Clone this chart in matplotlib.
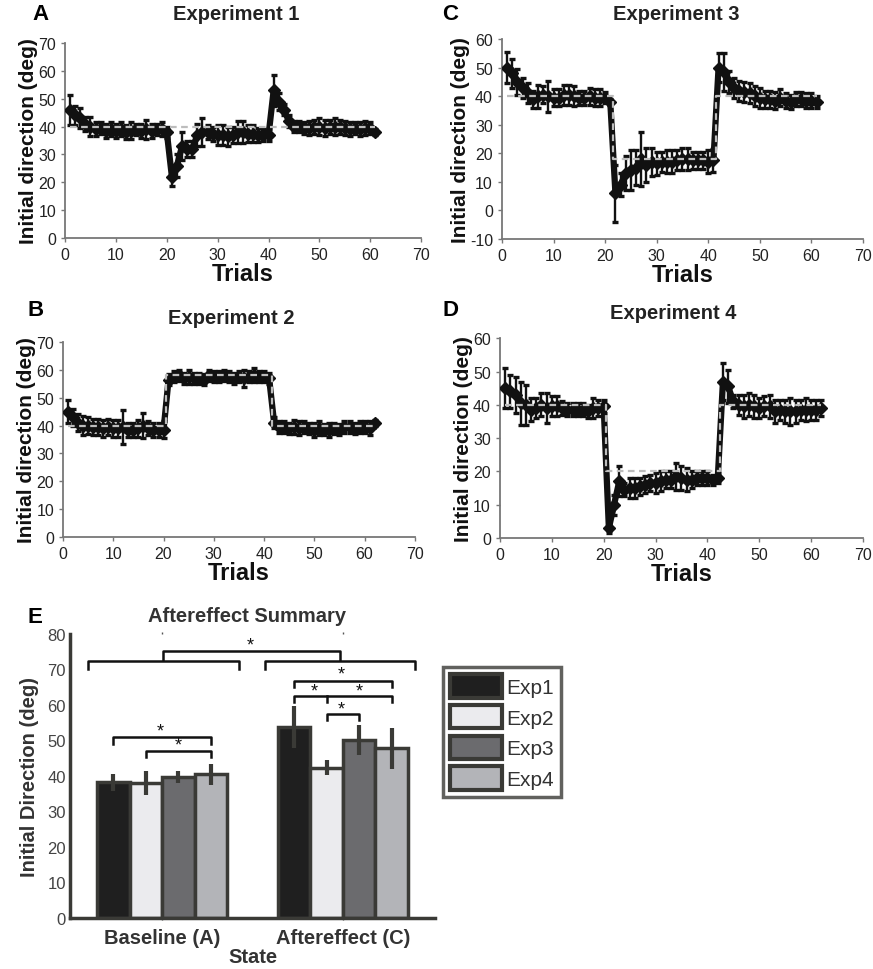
import numpy as np
import matplotlib
matplotlib.use("Agg")
import matplotlib.pyplot as plt
from matplotlib.patches import Patch

plt.rcParams["font.family"] = ["Liberation Sans", "DejaVu Sans"]
plt.rcParams["axes.unicode_minus"] = False

# ---- trial-by-trial data (mean, error) ----
exp1_mean = [46, 44, 43, 41, 40, 39, 39.5, 38.5, 39, 38.5, 39, 38, 38.5, 39, 38.5, 39, 38.5, 39, 39, 38,
             22, 26, 33, 32, 32, 37, 38, 38, 37.5, 37, 37, 36.5, 37, 38, 38, 37.5, 37.5, 37, 37, 37,
             53, 49, 46, 42, 40, 40, 39.5, 39.5, 40, 40, 39.5, 40, 40, 40, 39.5, 39, 39.5, 39, 39.5, 39.5, 38]
exp1_err = [5.5, 3.5, 3.5, 2.5, 3.5, 2.5, 2, 2.5, 2.5, 2.5, 2.5, 2.5, 3, 2, 2.5, 3.5, 2.5, 2, 2.5, 2,
            3.5, 4, 5, 3, 3, 4, 5, 2.5, 2.5, 3.5, 3.5, 3.5, 3, 4, 4, 3, 3, 2.5, 2, 2,
            5.5, 3, 2, 2, 2, 2, 2, 2.5, 2.5, 3, 3, 2.5, 3, 2.5, 2.5, 2.5, 2, 2.5, 2.5, 2, 1]
exp1_target = [40] * 61

exp2_mean = [45, 43, 41, 40, 40, 39.5, 39.5, 39, 39.5, 39, 39, 39.5, 38.5, 38.5, 39, 40, 39, 38.5, 38.5, 38.5,
             56.5, 57.5, 58, 57, 57.5, 57, 57, 56.5, 58, 57.5, 57.5, 58, 57.5, 57, 57.5, 57, 57.5, 58, 57.5, 57.5, 57,
             41, 39.5, 39.5, 39, 39.5, 39, 39.5, 39, 38.5, 39, 38.5, 38.5, 39, 38.5, 39.5, 39.5, 39, 39.5, 39.5, 39, 41]
exp2_err = [4, 3, 3, 3.5, 3, 3, 3, 3, 3, 3, 3, 6, 2.5, 2.5, 3, 4.5, 2.5, 2.5, 2.5, 3,
            2, 2, 2, 2, 2.5, 2, 2, 2, 2, 2, 2, 2, 2, 2, 2, 3, 2, 2.5, 2, 2, 2,
            2, 2, 2, 2, 2.5, 2.5, 2, 2, 2.5, 2.5, 2, 2.5, 2, 2, 2, 2, 2, 2, 2, 2.5, 1]
exp2_target = [40] * 20 + [58] * 21 + [40] * 21

exp3_mean = [50, 48, 45, 43, 41, 39, 40, 40.5, 40, 39.5, 39.5, 40.5, 40.5, 40, 39.5, 39.5, 40, 39.5, 39.5, 39.5, 38,
             6, 9, 13, 14, 15, 18, 16, 17, 16.5, 17, 17, 17, 17.5, 18, 18, 17.5, 17.5, 17.5, 17, 17.5,
             50, 48.5, 45, 43, 42, 41.5, 41, 40, 39.5, 39, 39, 38.5, 39.5, 38.5, 38, 39, 39, 38.5, 38.5, 38]
exp3_err = [5.5, 5, 4.5, 3.5, 3.5, 3, 4, 3, 5.5, 3, 3, 3.5, 3.5, 3.5, 2.5, 2.5, 3, 3, 3, 2, 1,
            10, 4, 6, 7, 6, 9.5, 6, 5, 4, 3.5, 4, 4, 3.5, 4, 4, 3, 3, 3, 4, 4,
            5, 6.5, 4, 3.5, 3.5, 3.5, 3.5, 3.5, 3.5, 3, 3, 3, 3, 2.5, 2.5, 2.5, 2.5, 2.5, 2.5, 2]
exp3_target = [40] * 21 + [18] * 20 + [40] * 20

exp4_mean = [45, 44, 43, 40.5, 40, 38.5, 39, 40, 39, 39.5, 39.5, 39, 38.5, 38.5, 38.5, 38.5, 38, 39, 39, 39.5,
             3, 10, 17, 14.5, 15, 15, 15.5, 16, 16.5, 16.5, 17, 17.5, 17.5, 18.5, 18, 17.5, 17.5, 18, 18, 18, 17.5, 18,
             47, 45.5, 41, 40, 39.5, 40, 39.5, 39, 39.5, 39.5, 38, 38.5, 38, 38, 38, 38.5, 38.5, 38.5, 38.5, 39]
exp4_err = [6, 5, 5.5, 6.5, 6, 3.5, 3, 3.5, 4.5, 3, 3, 2, 2, 2, 2, 2, 2, 3, 2.5, 2,
            1.5, 3, 4.5, 2, 3, 3, 2.5, 2.5, 2.5, 3, 3, 2.5, 2.5, 4, 3.5, 3.5, 2.5, 2, 2, 2, 1.5, 1.5,
            5.5, 5, 2, 3, 3.5, 3.5, 3.5, 3, 3, 3.5, 3.5, 3, 3.5, 4, 3.5, 3, 3.5, 3, 3, 2.5]
exp4_target = [40] * 20 + [20] * 22 + [40] * 20

# ---- summary data ----
states = ["Baseline (A)", "Aftereffect (C)"]
exp_names = ["Exp1", "Exp2", "Exp3", "Exp4"]
summary_mean = [[38.2, 53.8], [38.0, 42.3], [39.7, 50.2], [40.5, 47.8]]
summary_err = [[2.3, 5.8], [3.5, 2.1], [1.6, 4.2], [3.0, 5.8]]
bar_colors = ["#1f1f1f", "#ebebee", "#6b6b6e", "#b3b4b8"]

DARK = "#3a3a36"


def trial_panel(rect, mean, err, target, ylim, yticks, letter, title, lpos, tpos):
    ax = fig.add_axes(rect)
    x = np.arange(1, len(mean) + 1)
    ax.errorbar(x, mean, yerr=err, fmt="none", ecolor="#111111", elinewidth=1.7,
                capsize=2.5, capthick=2.4, zorder=2)
    ax.plot(x, mean, color="#111111", lw=4.5, marker="D", ms=6, zorder=3)
    ax.plot(np.arange(1, len(target) + 1), target, color="#bdbdbd", lw=1.6,
            ls=(0, (3, 2)), drawstyle="steps-mid", zorder=4)
    ax.set_xlim(0, 70)
    ax.set_ylim(*ylim)
    ax.set_xticks(range(0, 71, 10))
    ax.set_yticks(yticks)
    for s in ["top", "right"]:
        ax.spines[s].set_visible(False)
    for s in ["left", "bottom"]:
        ax.spines[s].set_color("#777777")
        ax.spines[s].set_linewidth(1.3)
    ax.tick_params(colors="#777777", labelcolor="#222222", labelsize=11.5, length=3, width=1)
    ax.set_xlabel("Trials", fontsize=17, fontweight="bold", labelpad=0, color="#111111")
    ax.set_ylabel("Initial direction (deg)", fontsize=15, fontweight="bold", labelpad=0, color="#111111")
    fig.text(lpos[0], lpos[1], letter, fontsize=16, fontweight="bold", ha="left", va="center")
    fig.text(tpos[0], tpos[1], title, fontsize=14.5, fontweight="bold", ha="center", va="center",
             color="#222222")
    return ax


fig = plt.figure(figsize=(8.73, 9.7), dpi=100)

trial_panel([0.0745, 0.7536, 0.408, 0.201], exp1_mean, exp1_err, exp1_target, (0, 70),
            range(0, 71, 10), "A", "Experiment 1", (0.037, 0.985), (0.27, 0.985))
trial_panel([0.575, 0.7526, 0.4135, 0.206], exp3_mean, exp3_err, exp3_target, (-10, 60),
            range(-10, 61, 10), "C", "Experiment 3", (0.507, 0.985), (0.775, 0.985))
trial_panel([0.0722, 0.4454, 0.403, 0.201], exp2_mean, exp2_err, exp2_target, (0, 70),
            range(0, 71, 10), "B", "Experiment 2", (0.032, 0.68), (0.265, 0.672))
trial_panel([0.5727, 0.4443, 0.4158, 0.206], exp4_mean, exp4_err, exp4_target, (0, 60),
            range(0, 61, 10), "D", "Experiment 4", (0.507, 0.68), (0.771, 0.677))

# ---- panel E ----
ax = fig.add_axes([0.0802, 0.0526, 0.418, 0.2928])
centers = np.arange(1, len(states) + 1)
width = 0.18
offsets = [-1.5 * width, -0.5 * width, 0.5 * width, 1.5 * width]
handles = []
for i, name in enumerate(exp_names):
    xs = centers + offsets[i]
    ax.bar(xs, summary_mean[i], width=width, color=bar_colors[i], edgecolor=DARK,
           linewidth=2.5, zorder=2)
    ax.errorbar(xs, summary_mean[i], yerr=summary_err[i], fmt="none", ecolor=DARK,
                elinewidth=3, capsize=0, zorder=3)
    handles.append(Patch(facecolor=bar_colors[i], edgecolor=DARK, linewidth=3, label=name))


def bracket(x0, x1, y, leg=1.8, mid=None):
    xs = [x0, x0, x1, x1]
    ys = [y - leg, y, y, y - leg]
    ax.plot(xs, ys, color="#111111", lw=1.8, zorder=4, clip_on=False)
    if mid is not None:
        ax.plot([mid, mid], [y, y - leg], color="#111111", lw=1.8, zorder=4, clip_on=False)


def star(x, y):
    ax.text(x, y, "*", ha="center", va="center", fontsize=13, color="#111111", zorder=5)


# group-level brackets
bracket(0.59, 1.425, 72.5, leg=2.3)
bracket(1.57, 2.40, 72.5, leg=2.3)
bracket(1.005, 1.985, 75.2, leg=2.5)
star(1.49, 77.0)
# baseline comparisons
bracket(centers[0] + offsets[0], centers[0] + offsets[3], 50.9)
star(0.99, 52.6)
bracket(centers[0] + offsets[1], centers[0] + offsets[3], 47.1)
star(1.09, 48.8)
# aftereffect comparisons
bracket(centers[1] + offsets[0], centers[1] + offsets[3], 66.8)
star(1.99, 68.6)
bracket(centers[1] + offsets[0], centers[1] + offsets[3], 62.6, mid=centers[1] + offsets[1])
star(1.84, 64.0)
star(2.09, 64.0)
bracket(centers[1] + offsets[1], centers[1] + offsets[2], 57.5)
star(1.99, 59.0)

ax.set_xlim(0.49, 2.51)
ax.set_ylim(0, 80)
ax.set_yticks(range(0, 81, 10))
ax.set_xticks(centers)
ax.set_xticklabels(states, fontsize=14.5, fontweight="bold", color="#333333")
for s in ["top", "right"]:
    ax.spines[s].set_visible(False)
for s in ["left", "bottom"]:
    ax.spines[s].set_color(DARK)
    ax.spines[s].set_linewidth(2.5)
ax.tick_params(axis="y", length=0, labelsize=12, labelcolor="#444444", pad=3)
ax.tick_params(axis="x", length=0, pad=6)
ax.tick_params(axis="x", top=True, length=1.5, width=1, color="#555555")
ax.set_xlabel("State", fontsize=14.5, fontweight="bold", color="#333333", labelpad=0)
ax.set_ylabel("Initial Direction (deg)", fontsize=14.5, fontweight="bold", color="#333333", labelpad=6)
fig.text(0.032, 0.363, "E", fontsize=16, fontweight="bold", ha="left", va="center")
fig.text(0.283, 0.364, "Aftereffect Summary", fontsize=14.5, fontweight="bold", ha="center",
         va="center", color="#333333")

leg = fig.legend(handles=handles, loc="upper left", bbox_to_anchor=(443 / 873, 1 - 668 / 970),
                 frameon=True, fancybox=False, fontsize=15, handlelength=2.5, handleheight=1.35,
                 handletextpad=0.2, labelspacing=0.35, borderpad=0.35, borderaxespad=0)
leg.get_frame().set_edgecolor(DARK)
leg.get_frame().set_linewidth(2.5)
for t in leg.get_texts():
    t.set_color("#333333")

fig.savefig("out.png", dpi=100)
